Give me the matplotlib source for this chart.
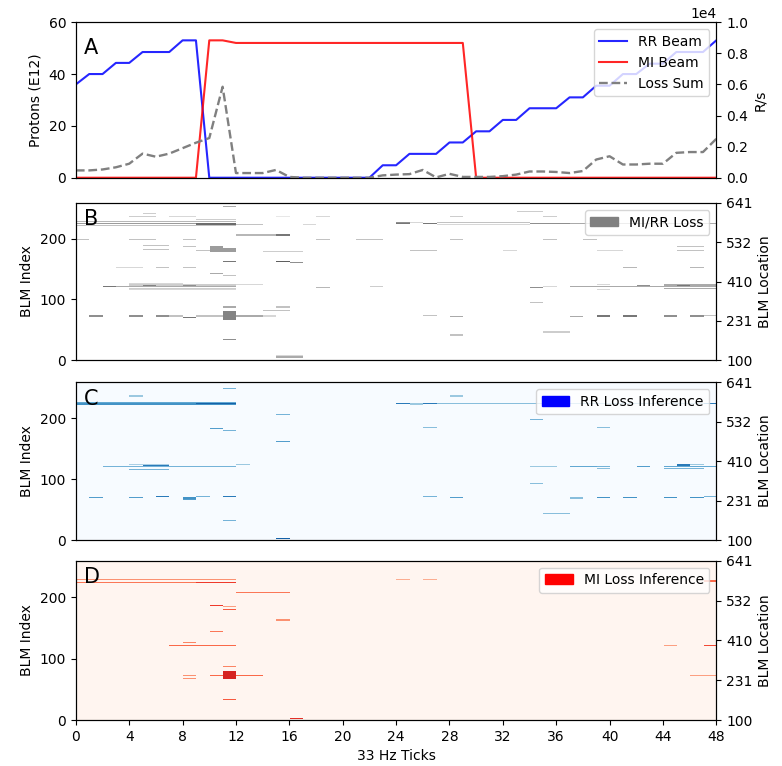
import numpy as np
import matplotlib
matplotlib.use("Agg")
import matplotlib.pyplot as plt
from matplotlib.patches import Patch

# --- panel A: beam intensities (E12 protons) and summed loss (R/s), one value per 33 Hz tick
ticks = np.arange(49)
rr_beam = [36, 40, 40, 44.3, 44.3, 48.5, 48.5, 48.5, 53, 53,
           0, 0, 0, 0, 0, 0, 0, 0, 0, 0, 0, 0, 0,
           4.8, 4.8, 9.2, 9.2, 9.2, 13.6, 13.6, 17.9, 17.9, 22.3, 22.3,
           26.8, 26.8, 26.8, 31, 31, 35.5, 35.5, 40, 40, 44, 44,
           48.5, 48.5, 48.5, 53]
mi_beam = [0] * 10 + [53, 53] + [52] * 18 + [0] * 19
loss_sum = [470, 470, 530, 670, 900, 1550, 1350, 1550, 1900, 2250, 2550, 5850,
            300, 300, 300, 500, 50, 0, 0, 0, 0, 0, 0, 150, 200, 230, 500, 20,
            250, 50, 50, 50, 100, 200, 400, 400, 370, 300, 430, 1170, 1380,
            850, 850, 900, 900, 1600, 1650, 1650, 2500]

# --- panels B-D: BLM loss maps, 259 monitors x 48 ticks
n_blm = 259
n_tick = 48
blm_location_labels = [100, 231, 410, 532, 641]

# line segments: (blm row, first tick, last tick, level)
mirr_lines = [
    (251, 11, 11, 0.5), (239, 5, 5, 0.35), (234, 4, 5, 0.35), (234, 7, 8, 0.3),
    (234, 15, 15, 0.2), (234, 18, 18, 0.3), (229, 9, 11, 0.35),
    (226, 0, 11, 0.45), (223, 0, 11, 0.55), (220, 0, 11, 0.4),
    (222, 9, 11, 0.75), (221, 12, 13, 0.4), (221, 17, 17, 0.3),
    (204, 12, 14, 0.45), (204, 15, 15, 0.7),
    (197, 0, 0, 0.4), (197, 4, 5, 0.4), (197, 8, 8, 0.4), (197, 18, 18, 0.4),
    (197, 21, 22, 0.4), (187, 5, 6, 0.4), (185, 8, 8, 0.4), (180, 5, 6, 0.4),
    (179, 9, 9, 0.4), (177, 14, 16, 0.35),
    (161, 11, 11, 0.7), (160, 15, 15, 0.8), (159, 16, 16, 0.6),
    (151, 3, 4, 0.3), (151, 6, 6, 0.4), (151, 8, 8, 0.4),
    (141, 10, 10, 0.5), (138, 11, 11, 0.4),
    (120, 2, 2, 0.7), (120, 3, 11, 0.5), (123, 12, 13, 0.3), (122, 4, 11, 0.35),
    (124, 4, 7, 0.3), (116, 4, 11, 0.35), (114, 4, 11, 0.3), (121, 5, 5, 0.65),
    (121, 8, 8, 0.6), (118, 18, 18, 0.45), (120, 22, 22, 0.35),
    (86, 11, 11, 0.5), (86, 15, 15, 0.4), (80, 14, 15, 0.4),
    (71, 1, 1, 0.6), (71, 4, 4, 0.6), (71, 6, 6, 0.6), (71, 7, 7, 0.4),
    (69, 8, 8, 0.7), (71, 9, 10, 0.4), (71, 12, 13, 0.5), (71, 14, 14, 0.3),
    (33, 11, 11, 0.6), (4, 15, 16, 0.5), (7, 15, 16, 0.3),
    (242, 33, 34, 0.35), (234, 28, 28, 0.35), (234, 35, 35, 0.35),
    (223, 24, 24, 0.7), (225, 24, 24, 0.6), (224, 25, 25, 0.3), (223, 26, 26, 0.7),
    (224, 27, 33, 0.4), (221, 27, 33, 0.3), (223, 34, 34, 0.6), (223, 35, 36, 0.6),
    (223, 37, 47, 0.5),
    (197, 28, 28, 0.4), (197, 35, 35, 0.4), (197, 38, 38, 0.4),
    (179, 25, 26, 0.4), (179, 32, 32, 0.3), (179, 39, 40, 0.3),
    (185, 45, 46, 0.4), (179, 45, 46, 0.4), (151, 41, 41, 0.45), (151, 46, 46, 0.45),
    (118, 34, 34, 0.6), (120, 35, 35, 0.3), (120, 37, 47, 0.5), (123, 39, 39, 0.3),
    (115, 39, 39, 0.3), (121, 42, 42, 0.6), (122, 44, 47, 0.5), (116, 44, 47, 0.5),
    (121, 45, 45, 0.7), (93, 34, 34, 0.4),
    (72, 26, 26, 0.4), (70, 28, 28, 0.5), (70, 37, 37, 0.5), (71, 39, 39, 0.7),
    (71, 41, 41, 0.7), (71, 44, 44, 0.6), (71, 46, 46, 0.6), (72, 47, 47, 0.4),
    (45, 35, 36, 0.35), (40, 28, 28, 0.4),
]
# blocks: (first row, last row, tick, level)
mirr_blocks = [(177, 186, 10, 0.55), (177, 182, 11, 0.55), (66, 80, 11, 0.65)]

rr_lines = [
    (247, 11, 11, 0.5), (235, 4, 4, 0.4),
    (224, 0, 11, 0.55), (222, 0, 11, 0.65), (223, 9, 11, 0.85),
    (205, 15, 15, 0.5), (182, 10, 10, 0.6), (179, 11, 11, 0.5), (160, 15, 15, 0.6),
    (123, 4, 6, 0.35), (123, 12, 12, 0.4), (119, 2, 11, 0.5), (121, 5, 6, 0.75),
    (114, 4, 6, 0.5),
    (69, 1, 1, 0.6), (69, 4, 4, 0.6), (70, 6, 6, 0.75), (68, 8, 8, 0.65),
    (66, 8, 8, 0.6), (70, 9, 9, 0.5), (70, 11, 11, 0.75),
    (31, 11, 11, 0.5), (1, 15, 15, 0.85),
    (235, 28, 28, 0.4), (223, 24, 24, 0.75), (222, 25, 25, 0.4), (223, 26, 26, 0.75),
    (223, 27, 47, 0.45), (223, 47, 47, 0.75),
    (196, 34, 34, 0.5), (183, 26, 26, 0.45), (183, 39, 39, 0.45),
    (119, 34, 35, 0.4), (119, 37, 38, 0.55), (119, 39, 39, 0.5), (116, 39, 39, 0.45),
    (119, 42, 42, 0.6), (119, 44, 47, 0.55), (116, 44, 46, 0.5), (122, 45, 45, 0.75),
    (123, 46, 46, 0.4), (91, 34, 34, 0.45),
    (70, 26, 26, 0.5), (69, 28, 28, 0.6), (68, 37, 37, 0.45), (69, 39, 39, 0.65),
    (69, 41, 41, 0.65), (69, 44, 44, 0.65), (69, 46, 46, 0.65), (70, 47, 47, 0.5),
    (43, 35, 36, 0.45),
]
rr_blocks = []

mi_lines = [
    (226, 0, 11, 0.45), (221, 0, 8, 0.55), (221, 9, 11, 0.75),
    (205, 12, 15, 0.55), (184, 10, 10, 0.75), (183, 11, 11, 0.4), (178, 11, 11, 0.65),
    (161, 15, 15, 0.45), (142, 10, 10, 0.55), (124, 8, 8, 0.5), (119, 7, 11, 0.6),
    (85, 11, 11, 0.5), (71, 8, 8, 0.45), (66, 8, 8, 0.45), (71, 10, 10, 0.6),
    (71, 12, 13, 0.6), (32, 11, 11, 0.65), (2, 16, 16, 0.8),
    (226, 24, 24, 0.35), (226, 26, 26, 0.35), (224, 47, 47, 0.6),
    (119, 44, 44, 0.4), (119, 47, 47, 0.7), (71, 46, 46, 0.4), (71, 47, 47, 0.4),
]
mi_blocks = [(66, 79, 11, 0.85)]


def build_map(lines, blocks):
    """Fill a (BLM x tick) loss matrix from the line/block lists."""
    m = np.zeros((n_blm, n_tick))
    for row, t0, t1, lev in lines:
        m[row:row + 2, t0:t1 + 1] = np.maximum(m[row:row + 2, t0:t1 + 1], lev)
    for r0, r1, t, lev in blocks:
        m[r0:r1 + 1, t] = np.maximum(m[r0:r1 + 1, t], lev)
    return m


fig = plt.figure(figsize=(7.82, 7.66), dpi=100)
left, width = 0.097, 0.819
boxes = [(0.768, 0.203), (0.530, 0.205), (0.295, 0.206), (0.060, 0.208)]
axes = [fig.add_axes([left, b, width, h]) for b, h in boxes]

# panel A
ax = axes[0]
ax.plot(ticks, rr_beam, color='#0000ff', alpha=0.85, lw=1.5, label='RR Beam')
ax.plot(ticks, mi_beam, color='#ff0000', alpha=0.85, lw=1.5, label='MI Beam')
ax.set_xlim(0, 48)
ax.set_ylim(0, 60)
ax.set_yticks([0, 20, 40, 60])
ax.set_ylabel('Protons (E12)')
ax.tick_params(labelbottom=False, bottom=False)
ax2 = ax.twinx()
ax2.plot(ticks, loss_sum, '--', color='gray', lw=1.7, label='Loss Sum')
ax2.set_ylim(0, 10000)
ax2.ticklabel_format(axis='y', style='sci', scilimits=(0, 0))
ax2.set_ylabel('R/s')
h1, l1 = ax.get_legend_handles_labels()
h2, l2 = ax2.get_legend_handles_labels()
ax2.legend(h1 + h2, l1 + l2, loc='upper right')
ax.text(0.012, 0.9, 'A', transform=ax.transAxes, fontsize=15, va='top')

# panels B-D
maps = [
    (build_map(mirr_lines, mirr_blocks), 'Greys', 1.15, '#808080', 'MI/RR Loss', 'B'),
    (build_map(rr_lines, rr_blocks), 'Blues', 1.05, 'blue', 'RR Loss Inference', 'C'),
    (build_map(mi_lines, mi_blocks), 'Reds', 1.2, 'red', 'MI Loss Inference', 'D'),
]
for ax, (m, cmap, vmax, pcol, lab, letter) in zip(axes[1:], maps):
    ax.imshow(m, cmap=cmap, vmin=0, vmax=vmax, aspect='auto', origin='lower',
              extent=[0, n_tick, 0, n_blm], interpolation='nearest')
    ax.set_xlim(0, 48)
    ax.set_ylim(0, n_blm)
    ax.set_yticks([0, 100, 200])
    ax.set_ylabel('BLM Index')
    ax.legend(handles=[Patch(color=pcol, label=lab)], loc='upper right')
    ax.text(0.012, 0.96, letter, transform=ax.transAxes, fontsize=15, va='top')
    axr = ax.twinx()
    axr.set_ylim(0, n_blm)
    axr.set_yticks(np.linspace(0, n_blm, 5))
    axr.set_yticklabels(blm_location_labels)
    axr.set_ylabel('BLM Location')
    if letter != 'D':
        ax.tick_params(labelbottom=False, bottom=False)

axes[3].set_xticks(np.arange(0, 49, 4))
axes[3].set_xlabel('33 Hz Ticks')

plt.savefig('out.png', dpi=100)
